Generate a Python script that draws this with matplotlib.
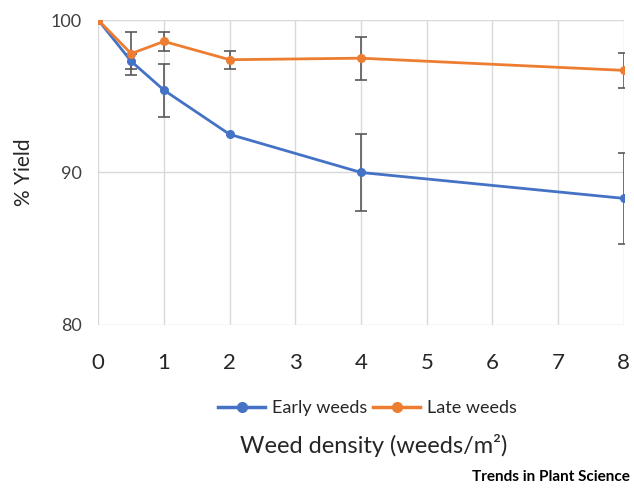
import matplotlib.pyplot as plt
from matplotlib.lines import Line2D

plt.rcParams['font.family'] = ['Lato', 'DejaVu Sans']

density = [0, 0.5, 1, 2, 4, 8]
early_yield = [100, 97.3, 95.4, 92.5, 90.0, 88.3]
early_err = [0, 0.5, 1.75, 0, 2.5, 3.0]
late_yield = [100, 97.8, 98.6, 97.4, 97.5, 96.7]
late_err = [0, 1.4, 0.65, 0.6, 1.4, 1.15]

blue = '#4472C4'
orange = '#ED7D31'
grid_col = '#D9D9D9'
err_col = '#595959'

fig = plt.figure(figsize=(6.34, 4.90), dpi=100)
ax = fig.add_axes([0.155, 0.337, 0.829, 0.622])

for y, err, col, lab in [(early_yield, early_err, blue, 'Early weeds'),
                         (late_yield, late_err, orange, 'Late weeds')]:
    ax.plot(density, y, color=col, lw=2, marker='o', ms=5.5, label=lab, zorder=3)
    # only draw bars where there is an error
    xs = [d for d, e in zip(density, err) if e > 0]
    ys = [v for v, e in zip(y, err) if e > 0]
    es = [e for e in err if e > 0]
    ax.errorbar(xs, ys, yerr=es, fmt='none', ecolor=err_col, elinewidth=1.2,
                capsize=4, capthick=1.2, zorder=2)

ax.set_xlim(0, 8)
ax.set_ylim(80, 100)
ax.set_xticks(range(0, 9))
ax.set_yticks([80, 90, 100])
ax.grid(True, color=grid_col, lw=1)
ax.set_axisbelow(True)
for s in ax.spines.values():
    s.set_visible(False)
ax.tick_params(length=0)
ax.tick_params(axis='x', labelsize=16, colors='#262626', pad=20)
ax.tick_params(axis='y', labelsize=13, colors='#404040', pad=12)
ax.set_ylabel('% Yield', fontsize=15, color='#262626', labelpad=12)

fig.text(0.59, 0.075, 'Weed density (weeds/m²)', fontsize=17,
         color='#262626', ha='center')
handles = [Line2D([], [], color=blue, lw=2.5, marker='o', ms=7),
           Line2D([], [], color=orange, lw=2.5, marker='o', ms=7)]
fig.legend(handles, ['Early weeds', 'Late weeds'], loc='center',
           bbox_to_anchor=(0.58, 0.167), ncol=2, frameon=False,
           fontsize=13, handlelength=2.6, columnspacing=0.3, handletextpad=0.4,
           labelcolor='#262626')
fig.text(0.993, 0.012, 'Trends in Plant Science', fontsize=11,
         fontweight='bold', ha='right', va='bottom', color='black')

fig.savefig('out.png', dpi=100)
